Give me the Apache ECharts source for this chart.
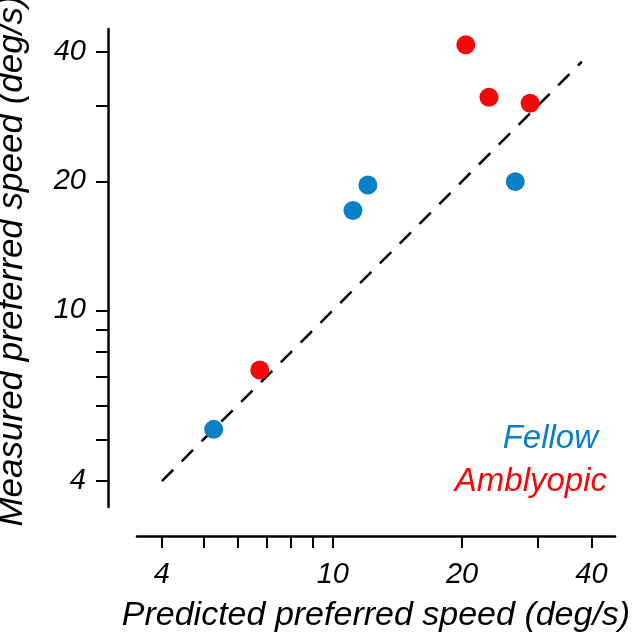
<!DOCTYPE html>
<html>
<head>
<meta charset="utf-8">
<script src="https://cdn.jsdelivr.net/npm/echarts@6/dist/echarts.min.js"></script>
<style>
html,body{margin:0;padding:0;background:#fff;}
#chart{width:640px;height:639px;}
</style>
</head>
<body>
<div id="chart"></div>
<script>
const fellowPredicted = [5.28, 11.14, 12.07, 26.6];
const fellowMeasured = [5.28, 17.1, 19.6, 19.96];
const amblyPredicted = [6.76, 20.4, 23.1, 28.8];
const amblyMeasured = [7.26, 41.6, 31.4, 30.4];
const unityLine = [4, 38];
const tickValues = [4, 5, 6, 7, 8, 9, 10, 20, 30, 40];
const labelValues = [4, 10, 20, 40];
const xName = 'Predicted preferred speed (deg/s)';
const yName = 'Measured preferred speed (deg/s)';
const legendNames = ['Fellow', 'Amblyopic'];

const BLUE = '#0a80c6';
const RED = '#f00a0a';
const FONT = 'Liberation Sans';

const chart = echarts.init(document.getElementById('chart'), null, {renderer: 'canvas'});

function pairs(xs, ys) { return xs.map((x, i) => [x, ys[i]]); }

const axisCommon = {
  type: 'log',
  logBase: 10,
  offset: 29,
  nameLocation: 'middle',
  nameTextStyle: {fontFamily: FONT, fontStyle: 'italic', fontSize: 34, color: '#000'},
  axisLine: {show: true, onZero: false, lineStyle: {color: '#000', width: 2.5}},
  axisTick: {show: true, inside: false, length: 12, customValues: tickValues, lineStyle: {color: '#000', width: 2}},
  axisLabel: {show: true, customValues: labelValues, margin: 24, fontFamily: FONT, fontStyle: 'italic', fontSize: 29, color: '#000'},
  splitLine: {show: false},
  minorTick: {show: false},
  minorSplitLine: {show: false}
};

const option = {
  animation: false,
  backgroundColor: '#fff',
  grid: {left: 137, right: 25, top: 29, bottom: 132, containLabel: false, outerBoundsMode: 'none'},
  xAxis: Object.assign({}, axisCommon, {
    min: 3.5, max: 45.4, name: xName, nameGap: 63
  }),
  yAxis: Object.assign({}, axisCommon, {
    min: 3.48, max: 45.3, name: yName, nameGap: 78,
    nameTextStyle: Object.assign({}, axisCommon.nameTextStyle, {fontSize: 35, padding: [0, 0, 0, 14]}),
    axisLabel: Object.assign({}, axisCommon.axisLabel, {margin: 22})
  }),
  graphic: [
    {type: 'text', right: 42, top: 422, style: {text: legendNames[0], fill: BLUE, font: 'italic 33px "Liberation Sans"'}},
    {type: 'text', right: 33, top: 465, style: {text: legendNames[1], fill: RED, font: 'italic 33px "Liberation Sans"'}}
  ],
  series: [
    {
      type: 'line',
      data: pairs(unityLine, unityLine),
      showSymbol: false,
      symbol: 'none',
      silent: true,
      lineStyle: {color: '#000', width: 2.5, type: [16, 12]},
      z: 1
    },
    {
      name: legendNames[0],
      type: 'scatter',
      data: pairs(fellowPredicted, fellowMeasured),
      symbolSize: 19,
      itemStyle: {color: BLUE, opacity: 1},
      z: 3
    },
    {
      name: legendNames[1],
      type: 'scatter',
      data: pairs(amblyPredicted, amblyMeasured),
      symbolSize: 19,
      itemStyle: {color: RED, opacity: 1},
      z: 3
    }
  ]
};
chart.setOption(option);
</script>
</body>
</html>
